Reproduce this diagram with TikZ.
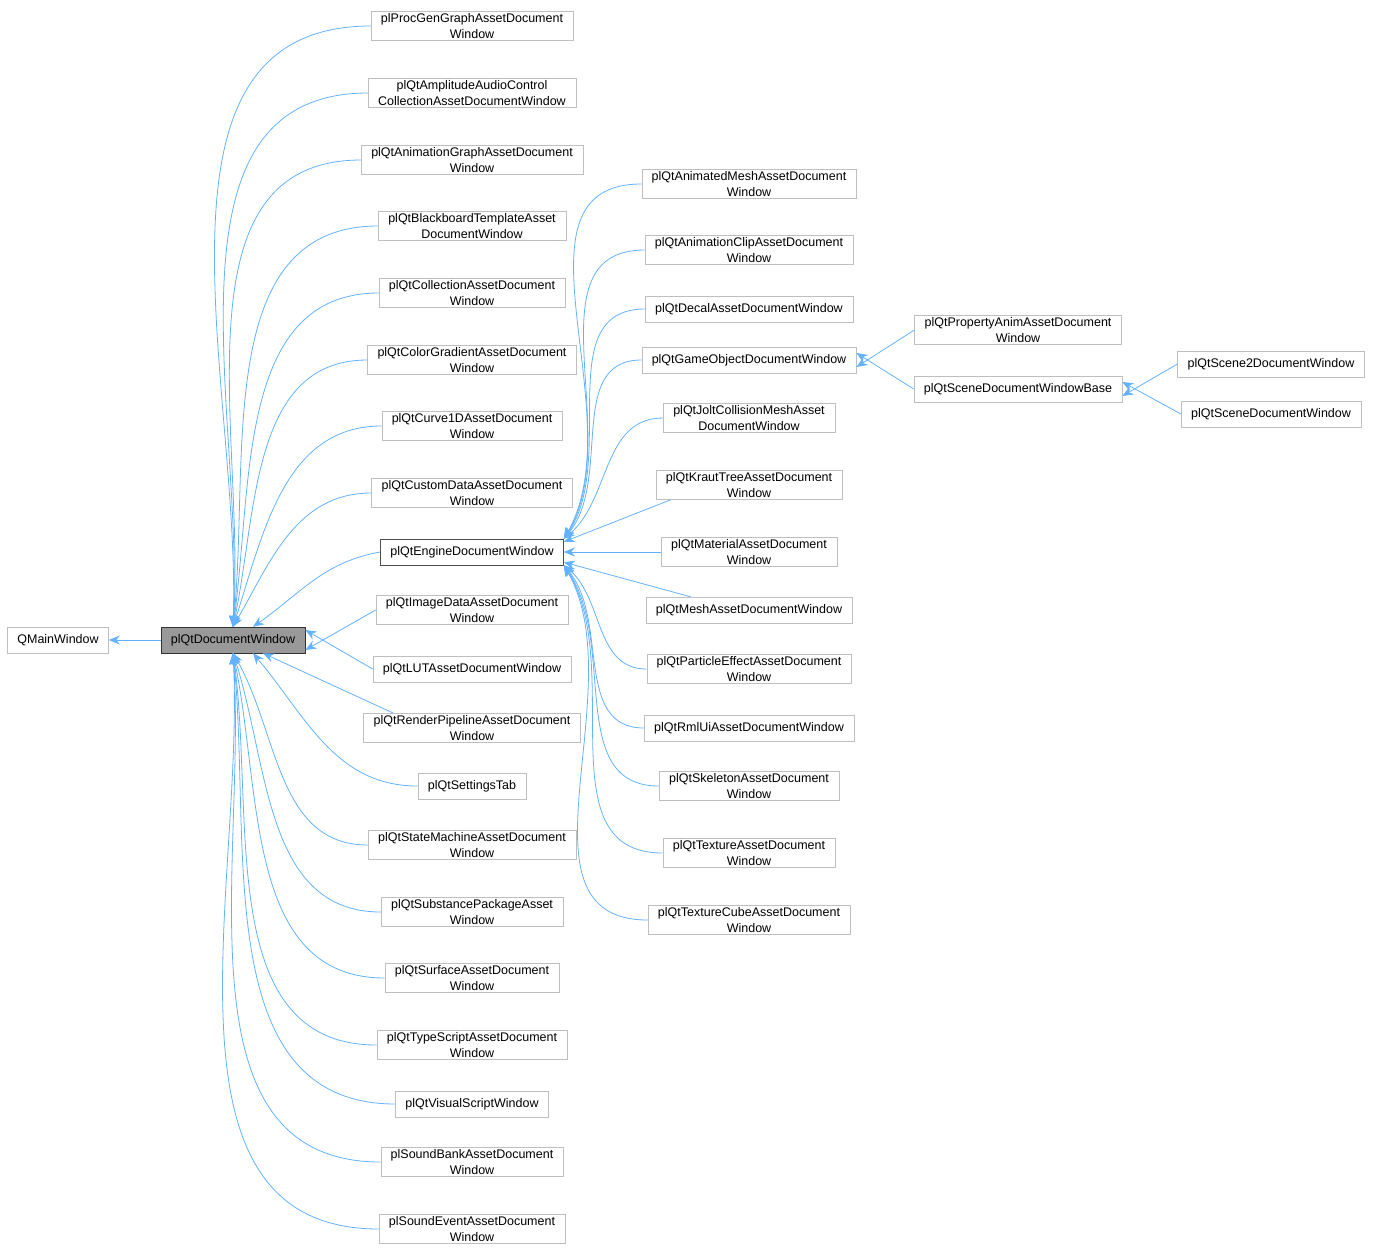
\documentclass[tikz,border=0pt]{standalone}
\usepackage{fontspec}
\setmainfont{Liberation Sans}
\usetikzlibrary{arrows.meta}
\definecolor{edgeblue}{RGB}{99,178,255}
\definecolor{boxgray}{RGB}{191,191,191}

\begin{document}
\begin{tikzpicture}[x=1pt, y=-1pt,
  every node/.style={draw=boxgray, fill=white, align=center, inner xsep=10pt, inner ysep=2pt,
    minimum height=26pt, font=\fontsize{12.5}{16}\selectfont},
  edge/.style={draw=edgeblue, line width=0.8pt, {Stealth[length=11pt,width=9pt]}-}]
  \useasboundingbox (0,0) rectangle (1375,1256);
  % root and base
  \node (qmw) at (58,640) {QMainWindow};
  \node[fill=black!40, draw=black!80] (dw) at (233,640) {plQtDocumentWindow};
  % first column
  \node (procgen) at (472,26) {plProcGenGraphAssetDocument\\Window};
  \node (ampl) at (472,93) {plQtAmplitudeAudioControl\\CollectionAssetDocumentWindow};
  \node (animgraph) at (472,160) {plQtAnimationGraphAssetDocument\\Window};
  \node (blackboard) at (472,226) {plQtBlackboardTemplateAsset\\DocumentWindow};
  \node (collection) at (472,293) {plQtCollectionAssetDocument\\Window};
  \node (colorgrad) at (472,360) {plQtColorGradientAssetDocument\\Window};
  \node (curve) at (472,426) {plQtCurve1DAssetDocument\\Window};
  \node (customdata) at (472,493) {plQtCustomDataAssetDocument\\Window};
  \node[draw=black!70] (engine) at (472,552) {plQtEngineDocumentWindow};
  \node (imagedata) at (472,610) {plQtImageDataAssetDocument\\Window};
  \node (lut) at (472,669) {plQtLUTAssetDocumentWindow};
  \node (renderpipe) at (472,728) {plQtRenderPipelineAssetDocument\\Window};
  \node (settings) at (472,786) {plQtSettingsTab};
  \node (statemachine) at (472,845) {plQtStateMachineAssetDocument\\Window};
  \node (substance) at (472,912) {plQtSubstancePackageAsset\\Window};
  \node (surface) at (472,978) {plQtSurfaceAssetDocument\\Window};
  \node (typescript) at (472,1045) {plQtTypeScriptAssetDocument\\Window};
  \node (visualscript) at (472,1104) {plQtVisualScriptWindow};
  \node (soundbank) at (472,1162) {plSoundBankAssetDocument\\Window};
  \node (soundevent) at (472,1229) {plSoundEventAssetDocument\\Window};
  % second column
  \node (animmesh) at (749,184) {plQtAnimatedMeshAssetDocument\\Window};
  \node (animclip) at (749,250) {plQtAnimationClipAssetDocument\\Window};
  \node (decal) at (749,309) {plQtDecalAssetDocumentWindow};
  \node (gameobj) at (749,360) {plQtGameObjectDocumentWindow};
  \node (jolt) at (749,418) {plQtJoltCollisionMeshAsset\\DocumentWindow};
  \node (kraut) at (749,485) {plQtKrautTreeAssetDocument\\Window};
  \node (material) at (749,552) {plQtMaterialAssetDocument\\Window};
  \node (mesh) at (749,610) {plQtMeshAssetDocumentWindow};
  \node (particle) at (749,669) {plQtParticleEffectAssetDocument\\Window};
  \node (rmlui) at (749,728) {plQtRmlUiAssetDocumentWindow};
  \node (skeleton) at (749,786) {plQtSkeletonAssetDocument\\Window};
  \node (texture) at (749,853) {plQtTextureAssetDocument\\Window};
  \node (texcube) at (749,920) {plQtTextureCubeAssetDocument\\Window};
  % third and fourth column
  \node (propanim) at (1018,330) {plQtPropertyAnimAssetDocument\\Window};
  \node (scenebase) at (1018,389) {plQtSceneDocumentWindowBase};
  \node (scene2) at (1271,364) {plQtScene2DocumentWindow};
  \node (scene) at (1271,414) {plQtSceneDocumentWindow};

  \draw[edge] (qmw) -- (dw);
  \draw[edge] (dw.north) to[in=180, out=88] (procgen.west);
  \draw[edge] (dw.north) to[in=180, out=87] (ampl.west);
  \draw[edge] (dw.north) to[in=180, out=86] (animgraph.west);
  \draw[edge] (dw.north) to[in=180, out=84] (blackboard.west);
  \draw[edge] (dw.north) to[in=180, out=82] (collection.west);
  \draw[edge] (dw.north) to[in=180, out=78] (colorgrad.west);
  \draw[edge] (dw.north) to[in=180, out=72] (curve.west);
  \draw[edge] (dw.north) to[in=180, out=60] (customdata.west);
  \draw[edge] ([xshift=20pt]dw.north) to[in=190, out=35] (engine.west);
  \draw[edge] ([yshift=-10pt]dw.east) -- (imagedata.west);
  \draw[edge] ([yshift=10pt]dw.east) -- (lut.west);
  \draw[edge] ([xshift=30pt]dw.south) -- ([xshift=30pt]renderpipe.north west);
  \draw[edge] ([xshift=20pt]dw.south) to[out=-50, in=180] (settings.west);
  \draw[edge] (dw.south) to[out=-60, in=180] (statemachine.west);
  \draw[edge] (dw.south) to[out=-72, in=180] (substance.west);
  \draw[edge] (dw.south) to[out=-78, in=180] (surface.west);
  \draw[edge] (dw.south) to[out=-82, in=180] (typescript.west);
  \draw[edge] (dw.south) to[out=-84, in=180] (visualscript.west);
  \draw[edge] (dw.south) to[out=-86, in=180] (soundbank.west);
  \draw[edge] (dw.south) to[out=-87, in=180] (soundevent.west);

  \draw[edge] (engine.north east) to[out=60, in=180] (animmesh.west);
  \draw[edge] (engine.north east) to[out=58, in=180] (animclip.west);
  \draw[edge] (engine.north east) to[out=55, in=180] (decal.west);
  \draw[edge] (engine.north east) to[out=50, in=180] (gameobj.west);
  \draw[edge] (engine.north east) to[out=40, in=180] (jolt.west);
  \draw[edge] ([yshift=-3pt]engine.north east) -- ([xshift=15pt]kraut.south west);
  \draw[edge] (engine.east) -- (material.west);
  \draw[edge] ([yshift=3pt]engine.south east) -- ([xshift=45pt]mesh.north west);
  \draw[edge] (engine.south east) to[out=-40, in=180] (particle.west);
  \draw[edge] (engine.south east) to[out=-50, in=180] (rmlui.west);
  \draw[edge] (engine.south east) to[out=-55, in=180] (skeleton.west);
  \draw[edge] (engine.south east) to[out=-58, in=180] (texture.west);
  \draw[edge] (engine.south east) to[out=-60, in=180] (texcube.west);

  \draw[edge] ([yshift=-7pt]gameobj.east) -- (propanim.west);
  \draw[edge] ([yshift=7pt]gameobj.east) -- (scenebase.west);
  \draw[edge] ([yshift=-7pt]scenebase.east) -- (scene2.west);
  \draw[edge] ([yshift=7pt]scenebase.east) -- (scene.west);
\end{tikzpicture}
\end{document}
